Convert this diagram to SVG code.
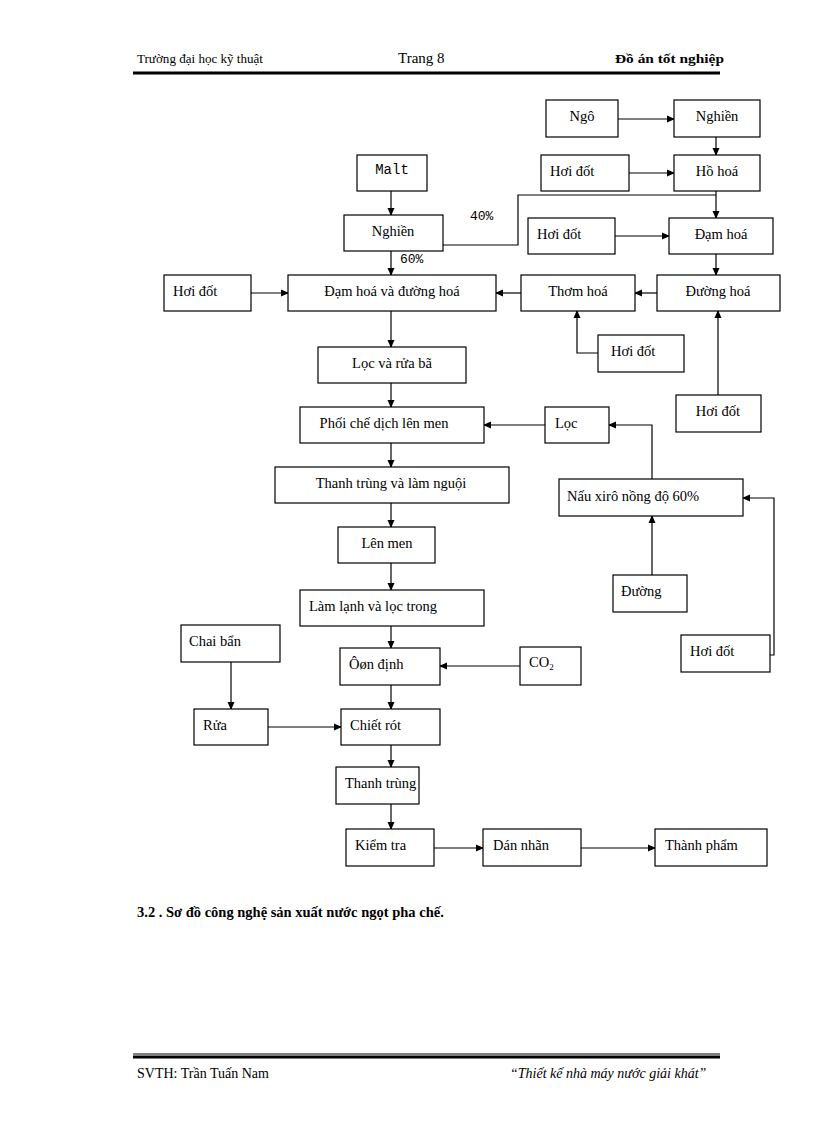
<svg xmlns="http://www.w3.org/2000/svg" width="816" height="1123" viewBox="0 0 816 1123">
<defs><marker id="a" markerWidth="8" markerHeight="8" refX="7" refY="4" orient="auto" markerUnits="userSpaceOnUse"><path d="M0,0.5 L8,4 L0,7.5 Z" fill="#000"/></marker></defs>
<style>
rect{fill:#fff;stroke:#000;stroke-width:1.2}
text{font-family:"Liberation Serif",serif;font-size:14.5px;fill:#000}
.m{font-family:"Liberation Mono",monospace;font-size:13px}
.c line,.c path{stroke:#000;stroke-width:1.2;fill:none}
.ar{marker-end:url(#a)}
</style>
<rect width="816" height="1123" style="stroke:none"/>
<text x="137" y="63" style="font-size:13px" textLength="126" lengthAdjust="spacingAndGlyphs">Trường đại học kỹ thuật</text>
<text x="398" y="63" style="font-size:15px">Trang  8</text>
<text x="615" y="63" style="font-size:13px;font-weight:bold" textLength="109" lengthAdjust="spacingAndGlyphs">Đồ án tốt nghiệp</text>
<line x1="133" y1="73" x2="720" y2="73" stroke="#000" stroke-width="3"/>
<line x1="133" y1="1054" x2="720" y2="1054" stroke="#000" stroke-width="1"/>
<line x1="133" y1="1057" x2="720" y2="1057" stroke="#000" stroke-width="3"/>
<text x="137" y="1078" style="font-size:14px">SVTH: Trần Tuấn Nam</text>
<text x="510" y="1078" style="font-size:14px;font-style:italic">“Thiết kế nhà máy nước giải khát”</text>
<text x="137" y="917" style="font-size:14.5px;font-weight:bold">3.2 . Sơ đồ công nghệ sản xuất nước ngọt pha chế.</text>
<g class="c">
<line class="ar" x1="618" y1="119" x2="674" y2="119"/>
<line class="ar" x1="716" y1="137" x2="716" y2="155"/>
<line class="ar" x1="629" y1="173" x2="674" y2="173"/>
<line class="ar" x1="716" y1="191" x2="716" y2="218"/>
<path d="M443,245 H518 V195 H716"/>
<line class="ar" x1="391" y1="191" x2="391" y2="215"/>
<line class="ar" x1="391" y1="251" x2="391" y2="275"/>
<line class="ar" x1="615" y1="236" x2="669" y2="236"/>
<line class="ar" x1="716" y1="254" x2="716" y2="275"/>
<line class="ar" x1="657" y1="293" x2="635" y2="293"/>
<line class="ar" x1="521" y1="293" x2="496" y2="293"/>
<line class="ar" x1="251" y1="293" x2="288" y2="293"/>
<path class="ar" d="M598,353 H577 V311"/>
<line class="ar" x1="718" y1="395" x2="718" y2="311"/>
<line class="ar" x1="391" y1="311" x2="391" y2="347"/>
<line class="ar" x1="391" y1="383" x2="391" y2="407"/>
<line class="ar" x1="545" y1="425" x2="484" y2="425"/>
<path class="ar" d="M652,479 V425 H609"/>
<line class="ar" x1="652" y1="575" x2="652" y2="516"/>
<path class="ar" d="M770,655 H774 V498 H743"/>
<line class="ar" x1="391" y1="443" x2="391" y2="467"/>
<line class="ar" x1="391" y1="503" x2="391" y2="527"/>
<line class="ar" x1="391" y1="563" x2="391" y2="590"/>
<line class="ar" x1="391" y1="626" x2="391" y2="648"/>
<line class="ar" x1="520" y1="666" x2="440" y2="666"/>
<line class="ar" x1="391" y1="685" x2="391" y2="709"/>
<line class="ar" x1="231" y1="662" x2="231" y2="709"/>
<line class="ar" x1="268" y1="727" x2="341" y2="727"/>
<line class="ar" x1="391" y1="745" x2="391" y2="767"/>
<line class="ar" x1="391" y1="804" x2="391" y2="829"/>
<line class="ar" x1="434" y1="848" x2="483" y2="848"/>
<line class="ar" x1="581" y1="848" x2="655" y2="848"/>
</g>
<text class="m" x="470" y="220">40%</text>
<text class="m" x="400" y="263">60%</text>
<g id="ngo"><rect x="546" y="100" width="72" height="37"/><text x="582" y="121" text-anchor="middle">Ngô</text></g>
<g id="nghien1"><rect x="674" y="100" width="86" height="37"/><text x="717" y="121" text-anchor="middle">Nghiền</text></g>
<g id="malt"><rect x="357" y="155" width="70" height="36"/><text class="m" x="392" y="174" text-anchor="middle" style="font-size:14px">Malt</text></g>
<g id="hoidot2"><rect x="541" y="155" width="88" height="36"/><text x="550" y="176">Hơi đốt</text></g>
<g id="hohoa"><rect x="674" y="155" width="86" height="36"/><text x="717" y="176" text-anchor="middle">Hồ hoá</text></g>
<g id="nghien2"><rect x="344" y="215" width="99" height="36"/><text x="393" y="236" text-anchor="middle">Nghiền</text></g>
<g id="hoidot3"><rect x="528" y="218" width="87" height="36"/><text x="537" y="239">Hơi đốt</text></g>
<g id="damhoa"><rect x="669" y="218" width="104" height="36"/><text x="721" y="239" text-anchor="middle">Đạm hoá</text></g>
<g id="hoidot1"><rect x="164" y="275" width="87" height="36"/><text x="173" y="296">Hơi đốt</text></g>
<g id="damduong"><rect x="288" y="275" width="208" height="36"/><text x="392" y="296" text-anchor="middle">Đạm  hoá và đường hoá</text></g>
<g id="thomhoa"><rect x="521" y="275" width="114" height="36"/><text x="578" y="296" text-anchor="middle">Thơm hoá</text></g>
<g id="duonghoa"><rect x="657" y="275" width="123" height="36"/><text x="718" y="296" text-anchor="middle">Đường hoá</text></g>
<g id="hoidot4"><rect x="598" y="335" width="86" height="37"/><text x="611" y="356">Hơi đốt</text></g>
<g id="locrua"><rect x="318" y="347" width="148" height="36"/><text x="392" y="368" text-anchor="middle">Lọc và rửa bã</text></g>
<g id="hoidot5"><rect x="676" y="395" width="85" height="37"/><text x="718" y="416" text-anchor="middle">Hơi đốt</text></g>
<g id="phoiche"><rect x="300" y="407" width="184" height="36"/><text x="384" y="428" text-anchor="middle">Phối chế dịch lên men</text></g>
<g id="loc"><rect x="545" y="407" width="64" height="36"/><text x="555" y="428">Lọc</text></g>
<g id="thanhtrungnguoi"><rect x="275" y="467" width="234" height="36"/><text x="391" y="488" text-anchor="middle">Thanh  trùng và  làm nguội</text></g>
<g id="nauxiro"><rect x="559" y="479" width="184" height="37"/><text x="567" y="501">Nấu xirô nồng độ 60%</text></g>
<g id="lenmen"><rect x="338" y="527" width="97" height="36"/><text x="387" y="548" text-anchor="middle">Lên men</text></g>
<g id="duong"><rect x="613" y="575" width="74" height="37"/><text x="621" y="596">Đường</text></g>
<g id="lamlanh"><rect x="300" y="590" width="184" height="36"/><text x="309" y="611">Làm lạnh và  lọc trong</text></g>
<g id="chaiban"><rect x="181" y="625" width="99" height="37"/><text x="189" y="646">Chai bẩn</text></g>
<g id="hoidot6"><rect x="681" y="635" width="89" height="37"/><text x="690" y="656">Hơi đốt</text></g>
<g id="ondinh"><rect x="340" y="648" width="100" height="37"/><text x="349" y="669">Ôøn định</text></g>
<g id="co2"><rect x="520" y="647" width="61" height="38"/><text x="529" y="667">CO<tspan style="font-size:9px" dy="3">2</tspan></text></g>
<g id="rua"><rect x="194" y="709" width="74" height="36"/><text x="203" y="730">Rửa</text></g>
<g id="chietrot"><rect x="341" y="709" width="99" height="36"/><text x="350" y="730">Chiết rót</text></g>
<g id="thanhtrung"><rect x="336" y="767" width="83" height="37"/><text x="345" y="788">Thanh trùng</text></g>
<g id="kiemtra"><rect x="346" y="829" width="88" height="37"/><text x="355" y="850">Kiểm tra</text></g>
<g id="dannhan"><rect x="483" y="829" width="98" height="37"/><text x="493" y="850">Dán nhãn</text></g>
<g id="thanhpham"><rect x="655" y="829" width="112" height="37"/><text x="665" y="850">Thành phẩm</text></g>
</svg>
